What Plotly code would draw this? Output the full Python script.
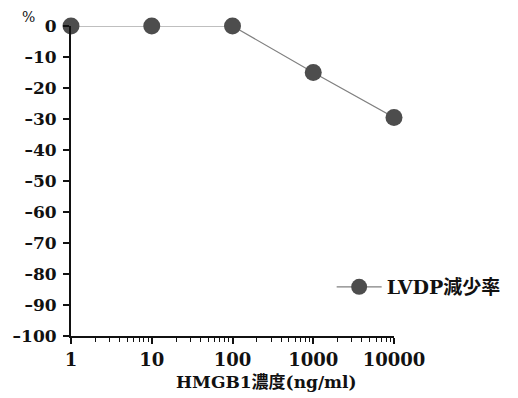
import plotly.graph_objects as go

concentration = [1, 10, 100, 1000, 10000]
lvdp_decrease = [0, 0, 0, -15, -29.5]
series_name = "LVDP減少率"
x_tick_vals = [1, 10, 100, 1000, 10000]
x_tick_labels = ["1", "10", "100", "1000", "10000"]
y_tick_vals = [0, -10, -20, -30, -40, -50, -60, -70, -80, -90, -100]
y_tick_labels = ["0", "–10", "–20", "–30", "–40", "–50", "–60", "–70", "–80", "–90", "–100"]
x_title = "HMGB1濃度(ng/ml)"
y_unit = "%"

font_family = "DejaVu Serif, Noto Sans CJK JP, serif"
ink = "#111111"

fig = go.Figure()
fig.add_trace(go.Scatter(
    x=concentration, y=lvdp_decrease, name=series_name,
    mode="lines+markers",
    line=dict(color="#808080", width=1.2),
    marker=dict(size=17, color="#4d4d4d"),
    cliponaxis=False,
    showlegend=True,
))

fig.update_layout(
    width=518, height=398,
    margin=dict(l=63, r=132, t=18, b=70),
    paper_bgcolor="white", plot_bgcolor="white",
    font=dict(family=font_family, size=18, color=ink, weight="bold"),
    legend=dict(x=0.807, y=0.158, xanchor="left", yanchor="middle",
                font=dict(size=19, family=font_family, color=ink, weight="bold"),
                bgcolor="rgba(0,0,0,0)", itemwidth=45),
    showlegend=True,
)
fig.update_xaxes(
    type="log", range=[0, 4], automargin=False,
    tickvals=x_tick_vals, ticktext=x_tick_labels,
    ticks="outside", ticklen=6, tickwidth=1.5, tickcolor=ink,
    showline=True, linecolor=ink, linewidth=2,
    showgrid=False, zeroline=False,
    minor=dict(ticks="outside", ticklen=4, tickwidth=1, tickcolor=ink, dtick="D1", showgrid=False),
    tickfont=dict(size=18, family=font_family, color=ink, weight="bold"),
)
fig.update_yaxes(
    range=[-100, 0], automargin=False,
    tickvals=y_tick_vals, ticktext=y_tick_labels,
    ticks="outside", ticklen=6, tickwidth=1.5, tickcolor=ink,
    ticklabelstandoff=3,
    showline=True, linecolor=ink, linewidth=2,
    showgrid=False, zeroline=False,
    tickfont=dict(size=17, family=font_family, color=ink, weight="bold"),
)
fig.add_annotation(text=x_title, xref="paper", yref="paper", x=0.604, y=-0.148,
                   xanchor="center", yanchor="middle", showarrow=False,
                   font=dict(size=17, family=font_family, color=ink, weight="bold"))
fig.add_annotation(text=y_unit, xref="paper", yref="paper", x=-0.133, y=1.029,
                   xanchor="center", yanchor="middle", showarrow=False,
                   font=dict(size=14, family=font_family, color=ink, weight="normal"))

fig.write_html("out.html")
